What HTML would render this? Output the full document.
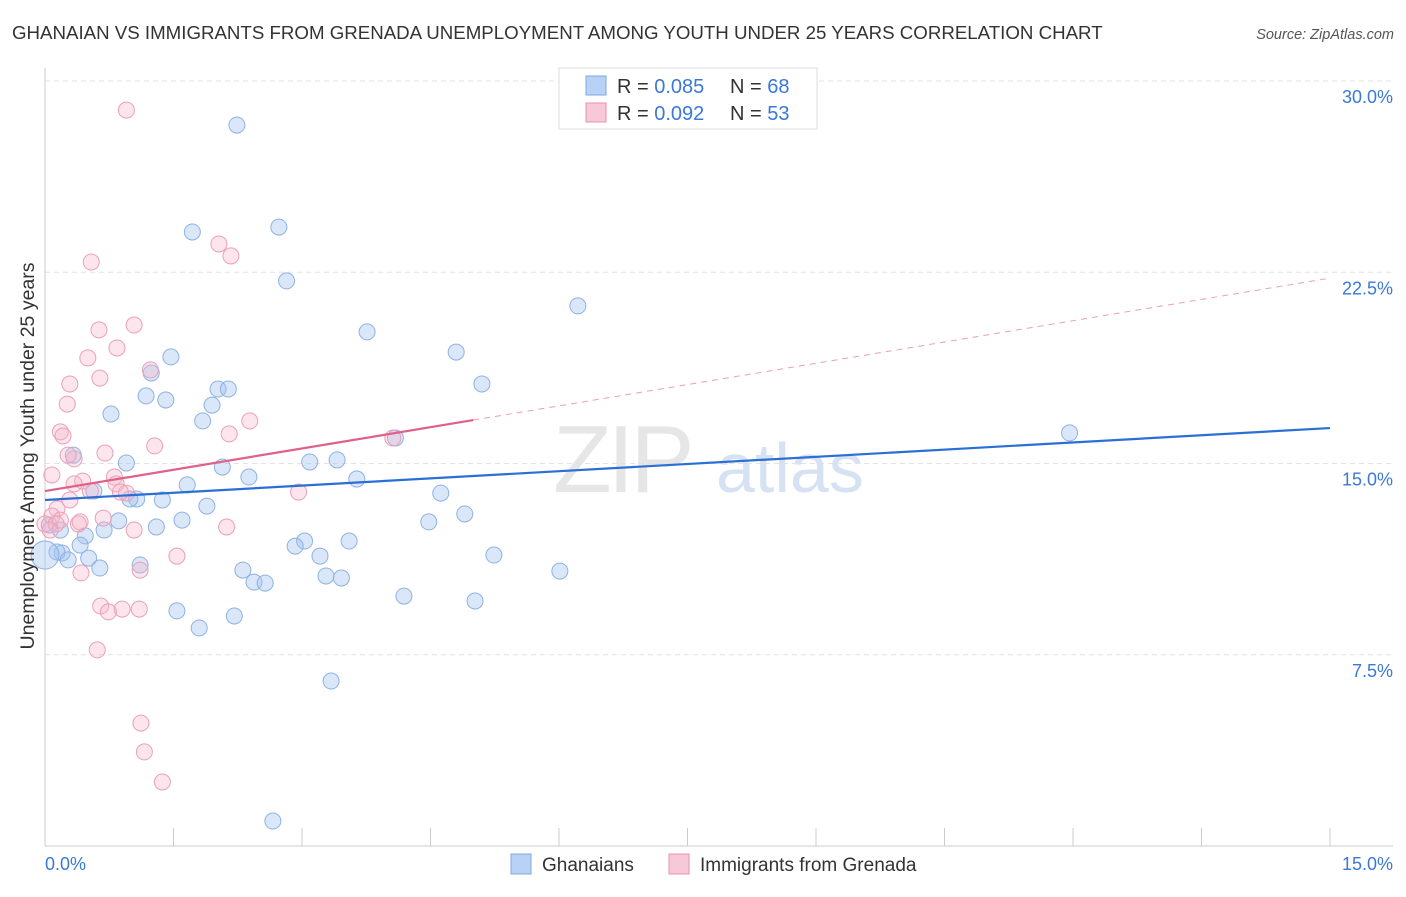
<!DOCTYPE html>
<html><head><meta charset="utf-8"><style>
body{margin:0;background:#fff;}
svg text{font-family:"Liberation Sans",sans-serif;}
</style></head><body>
<svg id="chart" width="1406" height="892" viewBox="0 0 1406 892" xmlns="http://www.w3.org/2000/svg">
<text x="12" y="39" font-size="18.7" fill="#333">GHANAIAN VS IMMIGRANTS FROM GRENADA UNEMPLOYMENT AMONG YOUTH UNDER 25 YEARS CORRELATION CHART</text>
<text x="1394" y="39" font-size="14.5" fill="#555" font-style="italic" text-anchor="end">Source: ZipAtlas.com</text>
<g>
<text x="553" y="492" font-size="96" fill="#e6e6e6" font-family="Liberation Serif,serif" letter-spacing="-4">ZIP</text>
<text x="716" y="492" font-size="70" fill="#d6e2f4">atlas</text>
</g>
<g id="grid"></g>
<g id="axes"></g>
<g id="points"></g>
<g id="trends"></g>
<text transform="translate(34,456) rotate(-90)" font-size="19.5" fill="#333" text-anchor="middle">Unemployment Among Youth under 25 years</text>
<g>
<rect x="559" y="68" width="258" height="61" fill="#fff" stroke="#ddd"/>
<rect x="586" y="76" width="20" height="19" fill="#b8d2f5" stroke="#7fa8e0"/>
<rect x="586" y="103" width="20" height="19" fill="#f9c8d7" stroke="#e890ac"/>
<text x="617" y="93" font-size="20" fill="#333">R = <tspan fill="#3b78d8">0.085</tspan></text>
<text x="730" y="93" font-size="20" fill="#333">N = <tspan fill="#3b78d8">68</tspan></text>
<text x="617" y="120" font-size="20" fill="#333">R = <tspan fill="#3b78d8">0.092</tspan></text>
<text x="730" y="120" font-size="20" fill="#333">N = <tspan fill="#3b78d8">53</tspan></text>
</g>
<g>
<rect x="511" y="854" width="20" height="20" fill="#b8d2f5" stroke="#7fa8e0"/>
<text x="542" y="871" font-size="19" fill="#333">Ghanaians</text>
<rect x="669" y="854" width="20" height="20" fill="#f9c8d7" stroke="#e890ac"/>
<text x="700" y="871" font-size="19" fill="#333">Immigrants from Grenada</text>
</g>
</svg>
<script>
const yTicks=[7.5,15,22.5,30];
const yTickLabels=["7.5%","15.0%","22.5%","30.0%"];
const xTicks=[0,1.5,3,4.5,6,7.5,9,10.5,12,13.5,15];
const xEndLabels=["0.0%","15.0%"];
const blueX=[2.24,2.73,1.72,2.82,6.22,3.76,4.80,1.47,1.24,5.10,2.02,2.14,1.18,1.41,1.95,0.77,1.84,11.96,4.09,0.33,0.95,3.09,3.41,2.07,2.38,3.64,1.66,0.57,1.07,0.99,1.37,4.62,1.89,4.90,1.60,0.86,4.48,1.30,0.69,0.47,0.18,3.03,3.55,2.92,3.21,5.24,0.20,0.14,0.27,0.51,1.11,0.64,2.31,6.01,3.28,3.46,2.44,2.57,4.19,5.02,1.54,2.21,1.80,3.34,2.66,0.41,0.0,0.05];
const blueY=[28.27,24.27,24.08,22.16,21.18,20.16,19.37,19.18,18.55,18.12,17.92,17.92,17.65,17.49,17.29,16.94,16.67,16.20,16.00,15.33,15.02,15.06,15.14,14.86,14.47,14.39,14.16,13.92,13.61,13.61,13.57,13.84,13.33,13.02,12.78,12.75,12.71,12.51,12.39,12.16,12.39,11.96,11.96,11.76,11.37,11.41,11.49,11.53,11.22,11.29,11.02,10.90,10.82,10.78,10.59,10.51,10.35,10.31,9.80,9.61,9.22,9.02,8.55,6.47,0.98,11.80,11.41,12.59];
const pinkX=[0.95,2.03,2.17,0.54,1.04,0.63,0.84,0.50,0.64,0.29,1.23,0.26,2.39,2.15,0.18,0.21,1.28,4.06,0.70,0.34,0.27,0.08,0.44,0.81,0.34,0.83,2.96,0.95,0.53,0.29,0.88,0.14,0.08,0.18,0.39,0.68,1.04,0.0,0.13,2.12,1.54,1.11,0.42,0.65,0.90,1.10,0.74,0.61,1.12,1.16,1.37,0.06,0.41];
const pinkY=[28.86,23.61,23.14,22.90,20.43,20.24,19.53,19.14,18.35,18.12,18.67,17.33,16.67,16.16,16.24,16.08,15.69,16.00,15.41,15.18,15.33,14.55,14.31,14.47,14.20,14.20,13.88,13.84,13.92,13.57,13.88,13.22,12.94,12.78,12.63,12.86,12.39,12.63,12.63,12.51,11.37,10.82,10.71,9.41,9.29,9.29,9.18,7.69,4.82,3.69,2.51,12.39,12.71];
const blueTrend=[13.57,16.39];
const pinkTrend=[13.92,22.27];
const pinkSolidEnd=5.0;

const NS="http://www.w3.org/2000/svg";
const X0=45,X1=1330,Y0=846,Y1=81;
const sx=v=>X0+v/15*(X1-X0);
const sy=v=>Y0-v/30*(Y0-Y1);
function mk(tag,attrs,parent){const e=document.createElementNS(NS,tag);for(const k in attrs)e.setAttribute(k,attrs[k]);parent.appendChild(e);return e;}
const grid=document.getElementById('grid'),axes=document.getElementById('axes'),pts=document.getElementById('points'),tr=document.getElementById('trends');
yTicks.forEach((t,i)=>{
 const l=mk('line',{x1:X0,x2:1393,y1:sy(t),y2:sy(t),stroke:'#e2e2e2','stroke-dasharray':'5,4'},grid);
 
 
 const tx=mk('text',{x:1393,y:sy(t)+22,'font-size':18,fill:'#3b78d8','text-anchor':'end'},grid);
 tx.textContent=yTickLabels[i];
 
 
});
const xa=mk('line',{x1:X0,x2:1393,y1:Y0,y2:Y0,stroke:'#ccc'},axes);


const ya=mk('line',{x1:X0,x2:X0,y1:68,y2:Y0,stroke:'#ccc'},axes);


xTicks.forEach(t=>{
 const l=mk('line',{x1:sx(t),x2:sx(t),y1:Y0,y2:828,stroke:'#ccc'},axes);
 
 
});
const xl0=mk('text',{x:X0,y:870,'font-size':18,fill:'#3b78d8'},axes);xl0.textContent=xEndLabels[0];


const xl1=mk('text',{x:1393,y:870,'font-size':18,fill:'#3b78d8','text-anchor':'end'},axes);xl1.textContent=xEndLabels[1];


blueX.forEach((v,i)=>{
 const c=mk('circle',{cx:sx(v),cy:sy(blueY[i]),r:(v===0?14:8),fill:'rgba(160,195,240,0.4)',stroke:'#8eb2e2','stroke-width':1},pts);
 
 
});
pinkX.forEach((v,i)=>{
 const c=mk('circle',{cx:sx(v),cy:sy(pinkY[i]),r:8,fill:'rgba(245,180,200,0.35)',stroke:'#eaa0b8','stroke-width':1},pts);
 
 
});
const bt=mk('line',{x1:sx(0),y1:sy(blueTrend[0]),x2:sx(15),y2:sy(blueTrend[1]),stroke:'#2a6fd6','stroke-width':2.2},tr);


const pAt=v=>pinkTrend[0]+(pinkTrend[1]-pinkTrend[0])*v/15;
const pd=mk('line',{x1:sx(pinkSolidEnd),y1:sy(pAt(pinkSolidEnd)),x2:sx(15),y2:sy(pinkTrend[1]),stroke:'#e8a0b8','stroke-width':1,'stroke-dasharray':'6,5'},tr);


const ps=mk('line',{x1:sx(0),y1:sy(pinkTrend[0]),x2:sx(pinkSolidEnd),y2:sy(pAt(pinkSolidEnd)),stroke:'#e0608a','stroke-width':2.2},tr);


</script>
</body></html>
